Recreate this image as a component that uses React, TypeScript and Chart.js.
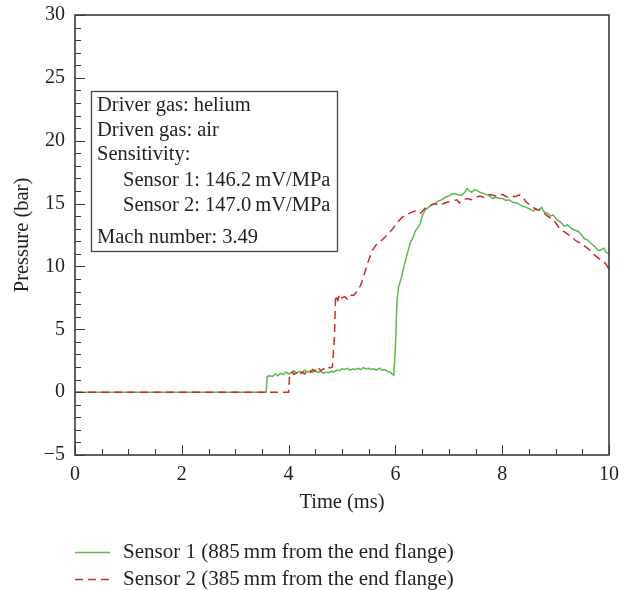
import React, { useEffect, useRef } from "react";
import { Chart, registerables } from "chart.js";

Chart.register(...registerables);

// ---- Data ----
const s1Time = [
  0, 3.58, 3.6, 3.65, 3.7, 3.75, 3.8, 3.85, 3.9, 3.95, 4.0, 4.05, 4.1, 4.15, 4.2, 4.25, 4.3, 4.35, 4.4, 4.45,
  4.5, 4.55, 4.6, 4.65, 4.7, 4.75, 4.8, 4.85, 4.9, 4.95, 5.0, 5.05, 5.1, 5.15, 5.2, 5.25, 5.3, 5.35, 5.4, 5.45,
  5.5, 5.55, 5.6, 5.65, 5.7, 5.75, 5.8, 5.85, 5.9, 5.95, 5.97, 6.0, 6.03, 6.06, 6.1, 6.15, 6.19, 6.24, 6.28, 6.33,
  6.37, 6.42, 6.47, 6.5, 6.53, 6.56, 6.62, 6.68, 6.75, 6.8, 6.87, 6.93, 7.0, 7.05, 7.11, 7.17, 7.24, 7.3, 7.34, 7.39,
  7.43, 7.48, 7.53, 7.58, 7.62, 7.68, 7.75, 7.82, 7.88, 7.95, 8.01, 8.07, 8.13, 8.2, 8.27, 8.33, 8.39, 8.45, 8.52, 8.58,
  8.63, 8.68, 8.74, 8.78, 8.81, 8.86, 8.9, 8.95, 9.03, 9.1, 9.16, 9.22, 9.29, 9.35, 9.42, 9.48, 9.54, 9.6, 9.67, 9.73,
  9.8, 9.85, 9.9, 9.95, 10.0,
];
const s1Pressure = [
  0, 0, 1.25, 1.3, 1.25, 1.45, 1.3, 1.5, 1.4, 1.6, 1.45, 1.55, 1.7, 1.5, 1.65, 1.55, 1.75, 1.6, 1.7, 1.55,
  1.75, 1.55, 1.65, 1.5, 1.6, 1.55, 1.65, 1.6, 1.75, 1.7, 1.85, 1.8, 1.9, 1.75, 1.85, 1.8, 1.9, 1.8, 1.95, 1.85,
  1.9, 1.8, 1.85, 1.75, 1.9, 1.75, 1.8, 1.65, 1.6, 1.4, 1.35, 3.5, 7.3, 8.4, 8.9, 9.8, 10.5, 11.3, 11.9, 12.3,
  12.8, 13.1, 13.45, 14.0, 14.25, 14.5, 14.7, 14.9, 15.0, 15.2, 15.3, 15.5, 15.6, 15.75, 15.8, 15.7, 15.65, 15.9, 16.2, 16.0,
  15.9, 16.1, 16.05, 15.9, 15.85, 15.75, 15.65, 15.4, 15.5, 15.4, 15.4, 15.25, 15.3, 15.1, 15.05, 14.9, 14.8, 14.7, 14.55, 14.4,
  14.6, 14.5, 14.7, 14.35, 14.3, 14.2, 14.0, 14.1, 13.7, 13.5, 13.2, 13.3, 13.05, 12.9, 12.8, 12.55, 12.2, 12.1, 11.8, 11.6,
  11.25, 11.3, 11.45, 11.1, 11.05,
];
const s2Time = [
  0, 4.0, 4.02, 4.07, 4.1, 4.15, 4.2, 4.25, 4.3, 4.35, 4.4, 4.45, 4.5, 4.55, 4.6, 4.65, 4.7, 4.75, 4.79, 4.82,
  4.86, 4.88, 4.92, 4.96, 5.0, 5.05, 5.1, 5.15, 5.22, 5.28, 5.35, 5.41, 5.5, 5.57, 5.64, 5.72, 5.8, 5.88, 5.95, 6.03,
  6.1, 6.16, 6.25, 6.3, 6.37, 6.43, 6.49, 6.55, 6.62, 6.68, 6.75, 6.82, 6.9, 6.97, 7.05, 7.15, 7.2, 7.27, 7.35, 7.42,
  7.5, 7.58, 7.65, 7.72, 7.8, 7.87, 7.94, 8.02, 8.1, 8.17, 8.25, 8.32, 8.39, 8.45, 8.52, 8.58, 8.64, 8.7, 8.77, 8.85,
  8.92, 8.97, 9.03, 9.08, 9.12, 9.18, 9.25, 9.3, 9.36, 9.42, 9.48, 9.55, 9.61, 9.66, 9.7, 9.76, 9.82, 9.86, 9.92, 9.97,
  10.0,
];
const s2Pressure = [
  0, 0, 1.5, 1.6, 1.4, 1.55, 1.35, 1.6, 1.45, 1.7, 1.55, 1.8, 1.65, 1.95, 1.7, 1.85, 1.75, 1.95, 1.95, 2.0,
  4.5, 7.7, 7.3, 7.8, 7.5, 7.6, 7.4, 7.7, 7.7, 8.0, 8.5, 9.3, 10.5, 11.3, 11.7, 12.0, 12.3, 12.65, 13.0, 13.45,
  13.8, 14.0, 14.2, 14.3, 14.4, 14.2, 14.3, 14.6, 14.8, 14.9, 15.0, 14.85, 15.0, 15.1, 15.2, 15.3, 15.05, 15.3, 15.4, 15.3,
  15.5, 15.6, 15.5, 15.7, 15.7, 15.6, 15.75, 15.7, 15.5, 15.6, 15.55, 15.7, 15.5, 15.1, 14.9, 14.7, 14.5, 14.5, 14.3, 14.0,
  13.8, 13.65, 13.3, 13.0, 12.9, 12.7, 12.5, 12.4, 12.1, 11.95, 11.8, 11.6, 11.4, 11.2, 11.0, 10.8, 10.6, 10.45, 10.3, 10.0,
  9.8,
];

const seriesLabels = [
  "Sensor 1 (885\u2009mm from the end flange)",
  "Sensor 2 (385\u2009mm from the end flange)",
];
const infoLines = [
  "Driver gas: helium",
  "Driven gas: air",
  "Sensitivity:",
  "Sensor 1: 146.2\u2009mV/MPa",
  "Sensor 2: 147.0\u2009mV/MPa",
  "Mach number: 3.49",
];
const xTitle = "Time (ms)";
const yTitle = "Pressure (bar)";

const FONT = "'Liberation Serif', 'Times New Roman', serif";
const TEXT = "#231f20";
const AXIS = "#3a3a3a";

const framePlugin = {
  id: "frameTicks",
  afterDatasetsDraw(chart: any) {
    const { ctx, chartArea, scales } = chart;
    const xs = scales.x;
    const ys = scales.y;
    ctx.save();
    ctx.strokeStyle = AXIS;
    ctx.lineWidth = 1;
    // y ticks (every 1, major every 5), pointing inwards
    for (let v = -5; v <= 30; v += 1) {
      const py = Math.round(ys.getPixelForValue(v)) + 0.5;
      const len = v % 5 === 0 ? 10 : 6;
      ctx.beginPath();
      ctx.moveTo(chartArea.left, py);
      ctx.lineTo(chartArea.left + len, py);
      ctx.stroke();
    }
    // x ticks (every 0.5, major every 2)
    for (let i = 0; i <= 20; i++) {
      const v = i * 0.5;
      const px = Math.round(xs.getPixelForValue(v)) + 0.5;
      const len = i % 4 === 0 ? 10 : 6;
      ctx.beginPath();
      ctx.moveTo(px, chartArea.bottom);
      ctx.lineTo(px, chartArea.bottom - len);
      ctx.stroke();
    }
    // frame
    ctx.lineWidth = 1.6;
    ctx.strokeStyle = AXIS;
    ctx.strokeRect(chartArea.left, chartArea.top, chartArea.right - chartArea.left, chartArea.bottom - chartArea.top);

    // info box
    const bx = chartArea.left + 16;
    const by = chartArea.top + 76;
    const bw = 246;
    const bh = 160;
    ctx.lineWidth = 1.3;
    ctx.strokeStyle = "#444";
    ctx.strokeRect(bx + 0.5, by + 0.5, bw, bh);
    ctx.fillStyle = TEXT;
    ctx.font = `20.5px ${FONT}`;
    ctx.textBaseline = "middle";
    ctx.textAlign = "left";
    const rows = [15, 40, 64, 90, 115, 147];
    infoLines.forEach((t, i) => {
      const indent = i === 3 || i === 4 ? 32 : 6;
      ctx.fillText(t, bx + indent, by + rows[i]);
    });
    ctx.restore();
  },
  afterDraw(chart: any) {
    const { ctx, chartArea } = chart;
    ctx.save();
    ctx.font = `21px ${FONT}`;
    ctx.textBaseline = "middle";
    ctx.textAlign = "left";
    const rowsY = [chartArea.bottom + 97, chartArea.bottom + 124];
    chart.data.datasets.forEach((ds: any, i: number) => {
      const y = rowsY[i];
      ctx.strokeStyle = ds.borderColor;
      ctx.lineWidth = 1.5;
      ctx.setLineDash(ds.borderDash || []);
      ctx.beginPath();
      ctx.moveTo(chartArea.left, y + 0.5);
      ctx.lineTo(chartArea.left + 35, y + 0.5);
      ctx.stroke();
      ctx.setLineDash([]);
      ctx.fillStyle = TEXT;
      ctx.fillText(ds.label, chartArea.left + 48, y);
    });
    ctx.restore();
  },
};

export default function App() {
  const ref = useRef<HTMLCanvasElement | null>(null);

  useEffect(() => {
    if (!ref.current) return;
    const chart = new Chart(ref.current, {
      type: "line",
      data: {
        datasets: [
          {
            label: seriesLabels[0],
            data: s1Time.map((t, i) => ({ x: t, y: s1Pressure[i] })),
            borderColor: "rgb(90,186,74)",
            borderWidth: 1.5,
            pointRadius: 0,
            tension: 0,
            fill: false,
            order: 1,
          },
          {
            label: seriesLabels[1],
            data: s2Time.map((t, i) => ({ x: t, y: s2Pressure[i] })),
            borderColor: "rgb(214,38,40)",
            borderWidth: 1.5,
            borderDash: [8, 5],
            pointRadius: 0,
            tension: 0,
            fill: false,
            order: 0,
          },
        ],
      },
      options: {
        animation: false,
        responsive: false,
        layout: { padding: { left: 0, top: 15, right: 11, bottom: 75 } },
        plugins: {
          legend: { display: false },
          tooltip: { enabled: false },
        },
        scales: {
          x: {
            type: "linear",
            min: 0,
            max: 10,
            grid: { display: false, drawTicks: false, tickLength: 0 },
            border: { display: false },
            ticks: {
              stepSize: 2,
              padding: 8,
              color: TEXT,
              font: { family: FONT, size: 20 },
              maxRotation: 0,
            },
            title: {
              display: true,
              text: xTitle,
              color: TEXT,
              font: { family: FONT, size: 20.5 },
              padding: 0,
            },
            afterFit(scale: any) {
              scale.height = 60;
              scale.paddingLeft = 0;
              scale.paddingRight = 0;
            },
          },
          y: {
            type: "linear",
            min: -5,
            max: 30,
            grid: { display: false, drawTicks: false, tickLength: 0 },
            border: { display: false },
            ticks: {
              stepSize: 5,
              padding: 10,
              color: TEXT,
              font: { family: FONT, size: 20 },
              callback: (v: any) => String(v).replace("-", "\u2212"),
            },
            title: {
              display: true,
              text: yTitle,
              color: TEXT,
              font: { family: FONT, size: 20.5 },
              padding: { top: 10, bottom: 0 },
            },
            afterFit(scale: any) {
              scale.width = 75;
              scale.paddingTop = 0;
              scale.paddingBottom = 0;
            },
          },
        },
      },
      plugins: [framePlugin],
    });
    return () => chart.destroy();
  }, []);

  return (
    <div style={{ position: "absolute", left: 0, top: 0, width: 620, height: 590, background: "#fff" }}>
      <canvas ref={ref} width={620} height={590} />
    </div>
  );
}
